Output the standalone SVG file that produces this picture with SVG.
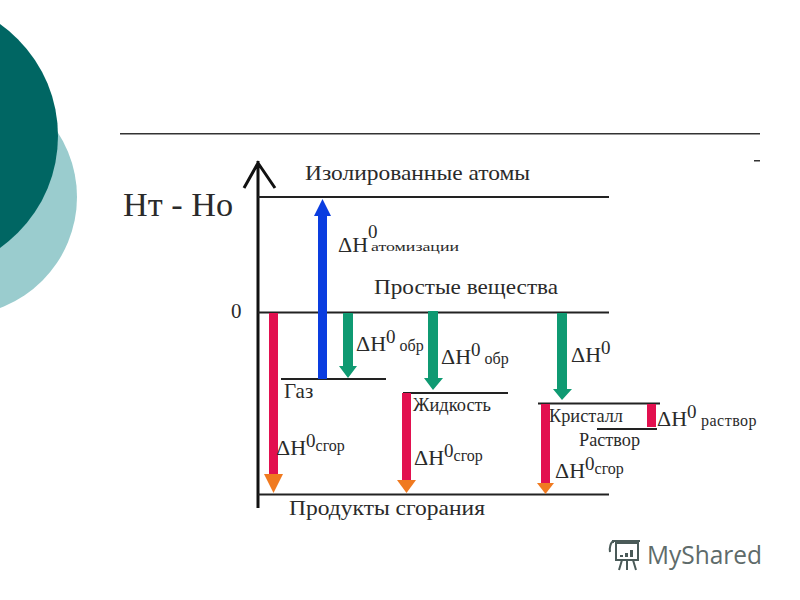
<svg xmlns="http://www.w3.org/2000/svg" width="800" height="600" viewBox="0 0 800 600">
<defs>
<style>
text{font-family:"Liberation Serif","Times New Roman",serif;fill:#2a2a2a}
.l{font-size:21px}
.n{font-size:18px}
.d{font-size:22px}
.z{font-size:19px}
.s{font-size:16px}
.ax{stroke:#111;stroke-width:3;fill:none}
.lv{stroke:#222;stroke-width:2;fill:none}
.red{fill:#e2104f}
.grn{fill:#0f9a72}
.org{fill:#f07a20}
</style>
</defs>
<rect width="800" height="600" fill="#fff"/>
<g id="decor">
<circle cx="-41.500" cy="197" r="118.500" fill="#9accce"/>
<circle cx="-79" cy="136" r="137" fill="#006663"/>
<rect x="120" y="133" width="640" height="1.500" fill="#333"/>
<rect x="754" y="160" width="6" height="1.500" fill="#333"/>
</g>
<g id="connectors">
<path class="ax" d="M258 508V161M244 188L258 163L275 188"/>
<path class="lv" d="M258 197H609"/>
<path class="lv" d="M258 312.500H609"/>
<path class="lv" d="M258 494.500H609"/>
<path class="lv" d="M281 379H386"/>
<path class="lv" d="M403 393H508"/>
<path class="lv" d="M538 403.500H660"/>
<path class="lv" d="M597 429H657"/>
<g id="arrow-atom"><path fill="#0a3de0" d="M318 379V216H314L322.500 199L331 216H327V379Z"/></g>
<g id="arrow-gas-burn"><path class="red" d="M269 313H278V474H269Z"/><path class="org" d="M264 474L273.500 493L283 474Z"/></g>
<g id="arrow-gas-form"><path class="grn" d="M343 313H353V366H357L348 378L339 366H343Z"/></g>
<g id="arrow-liq-form"><path class="grn" d="M428 311H438V378H443L433 390L424 378H428Z"/></g>
<g id="arrow-liq-burn"><path class="red" d="M402 393H411V480H402Z"/><path class="org" d="M397 480L406.500 493L416 480Z"/></g>
<g id="arrow-cr-form"><path class="grn" d="M557 313H567V389H572L562 400L553 389H557Z"/></g>
<g id="arrow-cr-burn"><path class="red" d="M541 404H550V483H541Z"/><path class="org" d="M537 483L545.500 494L554 483Z"/></g>
<g id="arrow-sol"><path class="red" d="M647 404H656V427H647Z"/></g>
</g>
<g id="labels">
<text x="123" y="216" font-size="34" textLength="110" lengthAdjust="spacingAndGlyphs">Hт - Hо</text>
<text x="231" y="318" class="l">0</text>
<text id="atoms" x="305" y="180" class="l" textLength="225" lengthAdjust="spacingAndGlyphs">Изолированные атомы</text>
<text id="simple" x="374" y="294" class="l" textLength="184" lengthAdjust="spacingAndGlyphs">Простые вещества</text>
<text id="products" x="289" y="515" class="l" textLength="196" lengthAdjust="spacingAndGlyphs">Продукты сгорания</text>
<text id="gas" x="284" y="398" class="l">Газ</text>
<text id="liquid" x="413" y="411" class="n" textLength="78" lengthAdjust="spacingAndGlyphs">Жидкость</text>
<text id="crystal" x="549" y="422" class="n" textLength="74" lengthAdjust="spacingAndGlyphs">Кристалл</text>
<text id="solution" x="579" y="446" class="n" textLength="61" lengthAdjust="spacingAndGlyphs">Раствор</text>
<text x="338" y="252" class="d">ΔH</text>
<text x="368" y="238" class="z">0</text>
<text x="371" y="251" font-size="13" textLength="88" lengthAdjust="spacingAndGlyphs">атомизации</text>
<text x="356" y="351" class="d">ΔH<tspan class="z" dy="-8">0</tspan><tspan class="s" dy="8"> обр</tspan></text>
<text x="441" y="364" class="d">ΔH<tspan class="z" dy="-8">0</tspan><tspan class="s" dy="8"> обр</tspan></text>
<text x="571" y="362" class="d">ΔH<tspan class="z" dy="-8">0</tspan></text>
<text x="276" y="455" class="d">ΔH<tspan class="z" dy="-8">0</tspan><tspan class="s" dy="4">сгор</tspan></text>
<text x="414" y="465" class="d">ΔH<tspan class="z" dy="-8">0</tspan><tspan class="s" dy="4">сгор</tspan></text>
<text x="555" y="478" class="d">ΔH<tspan class="z" dy="-8">0</tspan><tspan class="s" dy="4">сгор</tspan></text>
<text x="657" y="426" class="d">ΔH<tspan class="z" dy="-8">0</tspan><tspan class="s" dy="8" textLength="60"> раствор</tspan></text>
</g>
<g id="logo">
<g fill="none" stroke="#4a5a58" stroke-width="2">
<path d="M613 543V541H640M616 543H638V560H616ZM622 560L619 570M627 560V570M633 560L636 570M613 541Q609 545 610 552"/>
</g>
<path fill="#4a5a58" d="M620 555h3v2h-3zM625 553h3v4h-3zM630 550h3v7h-3z"/>
<text x="647" y="564" font-size="25" textLength="115" lengthAdjust="spacingAndGlyphs" style="font-family:'Open Sans',sans-serif;fill:#5e6b6a">MyShared</text>
</g>
</svg>
